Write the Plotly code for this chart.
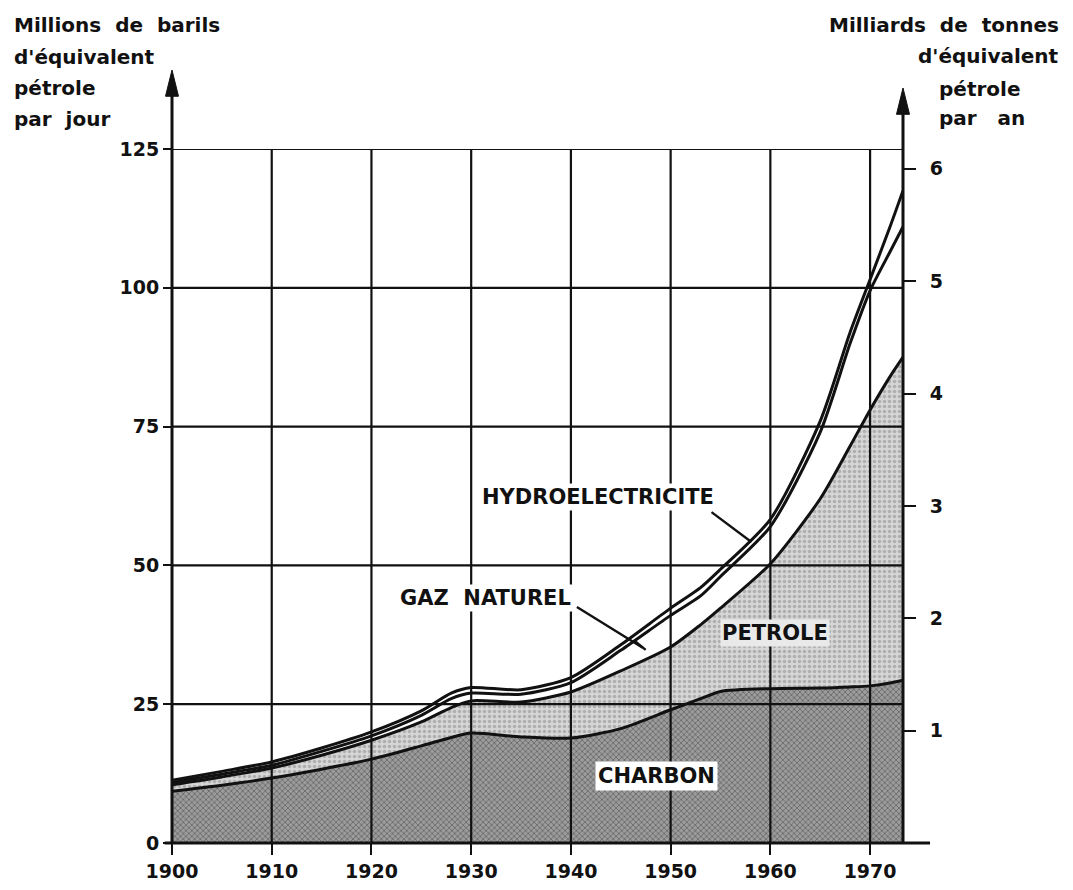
import plotly.graph_objects as go
import numpy as np

# ---- data (cumulative levels, millions of barrels oil-equivalent per day) ----
years = [1900, 1905, 1910, 1915, 1920, 1925, 1928, 1930, 1935, 1940, 1945,
         1950, 1953, 1955, 1960, 1965, 1968, 1970, 1972, 1973.3]
charbon_top = [9.3, 10.4, 11.7, 13.3, 15.1, 17.5, 19.0, 19.8, 19.1, 18.9, 20.6,
               24.0, 26.0, 27.3, 27.8, 27.9, 28.1, 28.3, 28.8, 29.3]
petrole_top = [10.5, 11.9, 13.5, 15.8, 18.5, 21.8, 24.4, 25.6, 25.4, 27.2, 31.0,
               35.3, 39.3, 42.3, 50.3, 62.0, 71.5, 78.0, 84.0, 87.5]
gaz_top = [10.9, 12.4, 14.0, 16.5, 19.3, 23.0, 26.0, 27.0, 26.8, 28.9, 34.7,
           41.0, 44.5, 48.0, 57.0, 74.0, 90.0, 99.5, 106.5, 111.0]
hydro_top = [11.3, 12.9, 14.6, 17.1, 20.0, 23.8, 27.0, 28.0, 27.6, 29.8, 35.7,
             42.3, 46.0, 49.3, 58.3, 76.0, 92.0, 101.5, 111.0, 117.5]

x_ticks = [1900, 1910, 1920, 1930, 1940, 1950, 1960, 1970]
y_left_ticks = [0, 25, 50, 75, 100, 125]
y_right_ticks = [1, 2, 3, 4, 5, 6]
MBD_PER_GTOE = 20.24  # 1 Gt oe / yr ~ 20 Mb/d
X_MAX = 1973.3
Y_MAX = 125

FONT = "DejaVu Sans"
BLACK = "#111111"
LW = 3.0
NB = "\u00a0"

fig = go.Figure()
line_style = dict(color=BLACK, width=LW, shape="spline", smoothing=0.7)

fig.add_trace(go.Scatter(
    x=years, y=charbon_top, mode="lines", line=line_style,
    fill="tozeroy",
    fillpattern=dict(shape="x", size=4, solidity=0.4,
                     fgcolor="#3a3a3a", bgcolor="#9c9c9c"),
    hoverinfo="skip", showlegend=False))
fig.add_trace(go.Scatter(
    x=years, y=petrole_top, mode="lines", line=line_style,
    fill="tonexty",
    fillpattern=dict(shape=".", size=5, solidity=0.4,
                     fgcolor="#888888", bgcolor="#d6d6d6"),
    hoverinfo="skip", showlegend=False))
fig.add_trace(go.Scatter(
    x=years, y=gaz_top, mode="lines", line=line_style,
    fill="tonexty", fillcolor="white", hoverinfo="skip", showlegend=False))
fig.add_trace(go.Scatter(
    x=years, y=hydro_top, mode="lines", line=line_style,
    fill="tonexty", fillcolor="white", hoverinfo="skip", showlegend=False))
# carrier for the right-hand axis (same data expressed in Gt oe / year)
fig.add_trace(go.Scatter(
    x=years, y=[v / MBD_PER_GTOE for v in hydro_top], yaxis="y2",
    mode="lines", line=dict(width=0, color="rgba(0,0,0,0)"),
    hoverinfo="skip", showlegend=False))

shapes = []
# grid (drawn above the fills, as in the original)
for t in x_ticks[1:]:
    shapes.append(dict(type="line", xref="x", yref="y", x0=t, x1=t, y0=0, y1=Y_MAX,
                       line=dict(color=BLACK, width=2.2), layer="above"))
for v in y_left_ticks[1:]:
    shapes.append(dict(type="line", xref="paper", yref="y", x0=0, x1=1, y0=v, y1=v,
                       line=dict(color=BLACK, width=2.2), layer="above"))
# axes lines
shapes.append(dict(type="line", xref="paper", yref="paper", x0=0, x1=0, y0=0, y1=1.09,
                   line=dict(color=BLACK, width=3), layer="above"))
shapes.append(dict(type="line", xref="paper", yref="paper", x0=1, x1=1, y0=0, y1=1.065,
                   line=dict(color=BLACK, width=3), layer="above"))
shapes.append(dict(type="line", xref="paper", yref="paper", x0=-0.01, x1=1.037, y0=0, y1=0,
                   line=dict(color=BLACK, width=3), layer="above"))
# arrow heads
hw = 6.5 / 731
shapes.append(dict(type="path", xref="paper", yref="paper",
                   path=f"M {-hw} 1.076 L 0 1.1138 L {hw} 1.076 Z",
                   fillcolor=BLACK, line=dict(color=BLACK, width=1), layer="above"))
shapes.append(dict(type="path", xref="paper", yref="paper",
                   path=f"M {1-hw} 1.050 L 1 1.0879 L {1+hw} 1.050 Z",
                   fillcolor=BLACK, line=dict(color=BLACK, width=1), layer="above"))


def level(series, yr):
    return float(np.interp(yr, years, series))


# leader lines for labels
hy = 1958.1
shapes.append(dict(type="line", xref="x", yref="y",
                   x0=1954.1, y0=59.6, x1=hy, y1=(level(hydro_top, hy) + level(gaz_top, hy)) / 2,
                   line=dict(color=BLACK, width=2.4), layer="above"))
gy = 1947.2
gmid = (level(gaz_top, gy) + level(petrole_top, gy)) / 2
shapes.append(dict(type="line", xref="x", yref="y",
                   x0=1940.6, y0=42.5, x1=gy, y1=gmid,
                   line=dict(color=BLACK, width=2.4), layer="above"))
shapes.append(dict(type="line", xref="x", yref="y",
                   x0=gy - 0.8, y0=gmid + 1.2, x1=gy + 0.3, y1=gmid - 0.4,
                   line=dict(color=BLACK, width=2.4), layer="above"))

label_font = dict(family=FONT, size=21, color=BLACK, weight="bold")
annotations = [
    dict(x=1942.75, y=62.3, xref="x", yref="y", text="HYDROELECTRICITE", showarrow=False,
         font=label_font, bgcolor="white", borderpad=1),
    dict(x=1931.4, y=44.1, xref="x", yref="y", text="GAZ" + NB + NB + "NATUREL", showarrow=False,
         font=label_font, bgcolor="white", borderpad=1),
    dict(x=1960.5, y=37.8, xref="x", yref="y", text="PETROLE", showarrow=False,
         font=label_font, bgcolor="#e9e9e9", borderpad=1),
    dict(x=1948.6, y=12.0, xref="x", yref="y", text="CHARBON", showarrow=False,
         font=label_font, bgcolor="white", borderpad=2),
]

title_font = dict(family=FONT, size=20, color=BLACK, weight="bold")


def px_x(px):
    return (px - 172) / 731


def px_y(py):
    return (843 - py) / 694


left_title = ["Millions" + NB + " de" + NB + " barils", "d'équivalent", "pétrole", "par" + NB + " jour"]
left_y = [25, 57, 88, 119]
for t, yy in zip(left_title, left_y):
    annotations.append(dict(x=px_x(12), y=px_y(yy), xref="paper", yref="paper", text=t,
                            showarrow=False, xanchor="left", yanchor="middle", font=title_font))
right_title = [("Milliards" + NB + " de" + NB + " tonnes", 1061, "right", 25),
               ("d'équivalent", 1061, "right", 56),
               ("pétrole", 937, "left", 89), ("par" + NB + NB + " an", 937, "left", 118)]
for t, xx, anc, yy in right_title:
    annotations.append(dict(x=px_x(xx), y=px_y(yy), xref="paper", yref="paper", text=t,
                            showarrow=False, xanchor=anc, yanchor="middle", font=title_font))

tick_font = dict(family=FONT, size=19, color=BLACK, weight="bold")

# the page body adds an 8 px offset; margins compensate for it
fig.update_layout(
    width=1073, height=890, autosize=False,
    margin=dict(l=164, r=178, t=141, b=55, pad=0),
    paper_bgcolor="white", plot_bgcolor="white",
    showlegend=False,
    xaxis=dict(range=[1900, X_MAX], tickvals=x_ticks, ticktext=[str(t) for t in x_ticks],
               ticks="outside", ticklen=11, tickwidth=2, tickcolor=BLACK,
               showgrid=False, zeroline=False, showline=False, tickfont=tick_font,
               fixedrange=True),
    yaxis=dict(range=[0, Y_MAX], tickvals=y_left_ticks, ticktext=[str(v) for v in y_left_ticks],
               ticks="outside", ticklen=8, tickwidth=2, tickcolor=BLACK,
               showgrid=False, zeroline=False, showline=False, tickfont=tick_font,
               ticklabelstandoff=0, fixedrange=True),
    yaxis2=dict(range=[0, Y_MAX / MBD_PER_GTOE], overlaying="y", side="right",
                tickvals=y_right_ticks, ticktext=[str(v) for v in y_right_ticks],
                ticks="outside", ticklen=12, tickwidth=2, tickcolor=BLACK,
                showgrid=False, zeroline=False, showline=False, tickfont=tick_font,
                ticklabelstandoff=10, fixedrange=True),
    shapes=shapes,
    annotations=annotations,
)

fig.write_html("out.html")
